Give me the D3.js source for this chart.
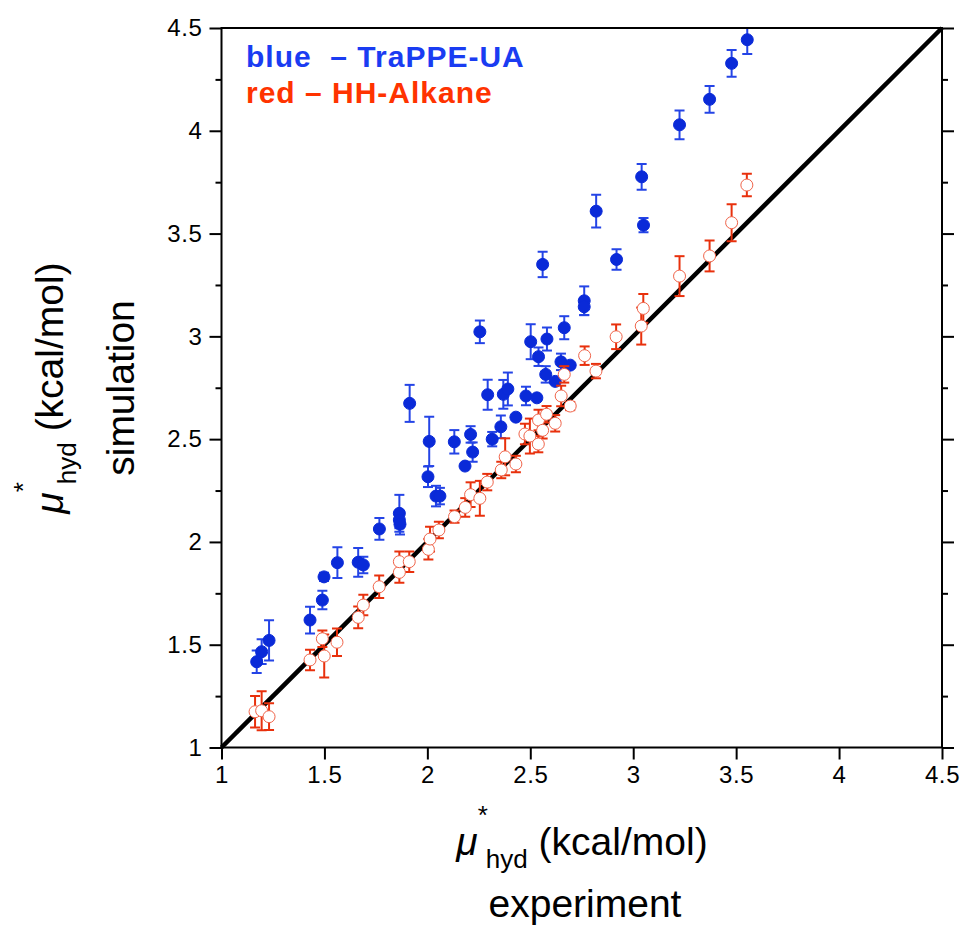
<!DOCTYPE html>
<html>
<head>
<meta charset="utf-8">
<script src="https://cdn.jsdelivr.net/npm/d3@7"></script>
<style>
  body { margin: 0; background: #fff; }
  svg { display: block; font-family: "Liberation Sans", Arial, sans-serif; }
</style>
</head>
<body>
<svg width="964" height="927"></svg>
<script>
// TraPPE-UA (blue, filled)
const trappeX = [1.171, 1.195, 1.231, 1.430, 1.490, 1.498, 1.563, 1.664, 1.689, 1.767,
  1.864, 1.864, 1.867, 1.914, 2.003, 2.009, 2.042, 2.061, 2.131, 2.183,
  2.210, 2.220, 2.255, 2.293, 2.315, 2.357, 2.369, 2.391, 2.430, 2.479,
  2.502, 2.532, 2.540, 2.560, 2.575, 2.581, 2.621, 2.649, 2.665, 2.694,
  2.762, 2.762, 2.820, 2.919, 3.041, 3.050, 3.225, 3.371, 3.478, 3.554];
const trappeY = [1.417, 1.466, 1.521, 1.620, 1.717, 1.830, 1.899, 1.901, 1.888, 2.063,
  2.139, 2.107, 2.086, 2.674, 2.317, 2.489, 2.223, 2.223, 2.487, 2.369,
  2.523, 2.437, 3.022, 2.716, 2.500, 2.560, 2.718, 2.744, 2.607, 2.710,
  2.974, 2.701, 2.901, 3.350, 2.815, 2.987, 2.781, 2.876, 3.042, 2.860,
  3.173, 3.144, 3.609, 3.374, 3.776, 3.541, 4.029, 4.153, 4.328, 4.443];
const trappeErr = [0.055, 0.06, 0.098, 0.065, 0.045, 0.02, 0.075, 0.07, 0.04, 0.053,
  0.09, 0.04, 0.05, 0.09, 0.05, 0.12, 0.05, 0.04, 0.057, 0.01,
  0.04, 0.047, 0.055, 0.073, 0.035, 0.055, 0.07, 0.08, 0.01, 0.045,
  0.085, 0.01, 0.045, 0.062, 0.04, 0.056, 0.01, 0.04, 0.056, 0.01,
  0.07, 0.04, 0.08, 0.05, 0.063, 0.035, 0.07, 0.065, 0.065, 0.07];

// HH-Alkane (red, open)
const hhX = [1.163, 1.195, 1.231, 1.430, 1.490, 1.499, 1.561, 1.664, 1.689, 1.766,
  1.864, 1.864, 1.912, 2.005, 2.013, 2.056, 2.132, 2.184, 2.210, 2.255,
  2.291, 2.359, 2.378, 2.430, 2.474, 2.498, 2.539, 2.540, 2.560, 2.579,
  2.621, 2.650, 2.665, 2.694, 2.764, 2.819, 2.917, 3.039, 3.049, 3.225,
  3.371, 3.478, 3.552];
const hhY = [1.174, 1.179, 1.150, 1.426, 1.529, 1.445, 1.512, 1.633, 1.693, 1.782,
  1.852, 1.904, 1.904, 1.964, 2.014, 2.058, 2.123, 2.168, 2.230, 2.212,
  2.291, 2.350, 2.414, 2.379, 2.525, 2.515, 2.476, 2.593, 2.543, 2.621,
  2.577, 2.710, 2.815, 2.661, 2.906, 2.831, 2.998, 3.050, 3.136, 3.293,
  3.391, 3.553, 3.736];
const hhErr = [0.077, 0.095, 0.065, 0.05, 0.04, 0.105, 0.067, 0.053, 0.05, 0.055,
  0.05, 0.05, 0.05, 0.05, 0.06, 0.04, 0.03, 0.045, 0.06, 0.085,
  0.04, 0.04, 0.09, 0.04, 0.05, 0.085, 0.04, 0.05, 0.04, 0.04,
  0.04, 0.05, 0.04, 0.02, 0.045, 0.035, 0.06, 0.09, 0.07, 0.097,
  0.075, 0.09, 0.055];

const xTicks = [1, 1.5, 2, 2.5, 3, 3.5, 4, 4.5];
const yTicks = [1, 1.5, 2, 2.5, 3, 3.5, 4, 4.5];
const yMinor = [1.25, 1.75, 2.25, 2.75, 3.25, 3.75, 4.25];

const svg = d3.select("svg");

const x = d3.scaleLinear().domain([1, 4.5]).range([221.5, 942]);
const y = d3.scaleLinear().domain([1, 4.5]).range([747.5, 28]);

// clip marks to the plot box
svg.append("clipPath").attr("id", "plot")
  .append("rect")
  .attr("x", x(1)).attr("y", y(4.5))
  .attr("width", x(4.5) - x(1)).attr("height", y(1) - y(4.5));

// axes (domain paths removed, frame drawn separately)
function styleAxis(g) {
  g.select(".domain").remove();
  g.selectAll(".tick line").attr("stroke", "#000").attr("stroke-width", 2);
  g.selectAll(".tick text").attr("fill", "#000").style("font-size", "24px")
    .style("letter-spacing", "0.6px");
}

svg.append("g").attr("transform", "translate(0,747.5)")
  .call(d3.axisBottom(x).tickValues(xTicks).tickSize(12).tickPadding(6).tickFormat(d => d))
  .call(styleAxis);

svg.append("g").attr("transform", "translate(221.5,0)")
  .call(d3.axisLeft(y).tickValues(yTicks).tickSize(12).tickPadding(7).tickFormat(d => d))
  .call(styleAxis);
svg.append("g").attr("transform", "translate(221.5,0)")
  .call(d3.axisLeft(y).tickValues(yMinor).tickSize(6).tickFormat(""))
  .call(styleAxis);

svg.append("g").attr("transform", "translate(942,0)")
  .call(d3.axisRight(y).tickValues(yTicks).tickSize(12).tickFormat(""))
  .call(styleAxis);
svg.append("g").attr("transform", "translate(942,0)")
  .call(d3.axisRight(y).tickValues(yMinor).tickSize(6).tickFormat(""))
  .call(styleAxis);

// y = x line
svg.append("line")
  .attr("x1", x(1)).attr("y1", y(1))
  .attr("x2", x(4.5)).attr("y2", y(4.5))
  .attr("stroke", "#000").attr("stroke-width", 4.5);

function drawSeries(xs, ys, errs, errColor, fill, stroke) {
  const data = xs.map((d, i) => ({ x: d, y: ys[i], e: errs[i] }));
  const g = svg.append("g").attr("clip-path", "url(#plot)");
  const eb = g.selectAll(".eb").data(data).enter().append("g")
    .attr("stroke", errColor).attr("stroke-width", 2);
  eb.append("line")
    .attr("x1", d => x(d.x)).attr("x2", d => x(d.x))
    .attr("y1", d => y(d.y - d.e)).attr("y2", d => y(d.y + d.e));
  eb.append("line")
    .attr("x1", d => x(d.x) - 5).attr("x2", d => x(d.x) + 5)
    .attr("y1", d => y(d.y + d.e)).attr("y2", d => y(d.y + d.e));
  eb.append("line")
    .attr("x1", d => x(d.x) - 5).attr("x2", d => x(d.x) + 5)
    .attr("y1", d => y(d.y - d.e)).attr("y2", d => y(d.y - d.e));
  g.selectAll("circle").data(data).enter().append("circle")
    .attr("cx", d => x(d.x)).attr("cy", d => y(d.y))
    .attr("r", 6)
    .attr("fill", fill)
    .attr("stroke", stroke).attr("stroke-width", 1);
}

drawSeries(trappeX, trappeY, trappeErr, "#2444e6", "#0a2ad8", "#0a2ad8");
drawSeries(hhX, hhY, hhErr, "#e8300c", "#fff", "#f0644a");

// frame
svg.append("rect")
  .attr("x", 221.5).attr("y", 28)
  .attr("width", 942 - 221.5).attr("height", 747.5 - 28)
  .attr("fill", "none").attr("stroke", "#000").attr("stroke-width", 2);

// legend
svg.append("text").attr("x", 246).attr("y", 67)
  .attr("fill", "#1a3cf2").attr("font-weight", "bold")
  .style("font-size", "30px").style("letter-spacing", "1px").style("white-space", "pre")
  .text("blue  \u2013 TraPPE-UA");
svg.append("text").attr("x", 246).attr("y", 103)
  .attr("fill", "#ff3300").attr("font-weight", "bold")
  .style("font-size", "30px").style("letter-spacing", "1px")
  .text("red \u2013 HH-Alkane");

// axis titles
function muTitle(t) {
  t.append("tspan").style("font-style", "italic").text("\u03bc");
  t.append("tspan").attr("dy", -31).style("font-size", "26px").text("*");
  t.append("tspan").attr("dx", -2).attr("dy", 44).style("font-size", "26px").text("hyd");
  t.append("tspan").attr("dy", -13).text(" (kcal/mol)");
}

const xt = svg.append("text").attr("x", 582).attr("y", 855)
  .attr("text-anchor", "middle").style("font-size", "39px");
muTitle(xt);
svg.append("text").attr("x", 585).attr("y", 917)
  .attr("text-anchor", "middle").style("font-size", "39px").text("experiment");

const yt = svg.append("text").attr("transform", "translate(63,388) rotate(-90)")
  .attr("text-anchor", "middle").style("font-size", "39px");
muTitle(yt);
svg.append("text").attr("transform", "translate(134,388) rotate(-90)")
  .attr("text-anchor", "middle").style("font-size", "39px").text("simulation");
</script>
</body>
</html>
